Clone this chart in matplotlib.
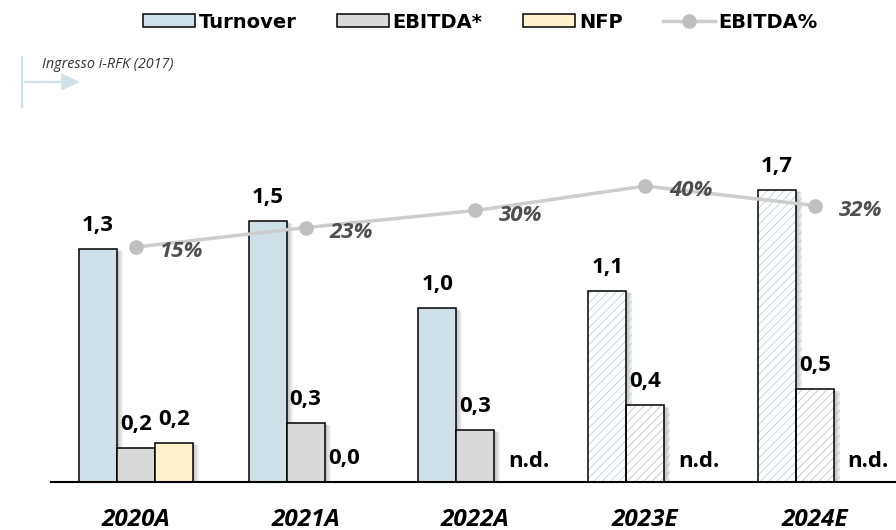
import numpy as np
import matplotlib
matplotlib.use("Agg")
import matplotlib.pyplot as plt
from matplotlib.patches import Patch, FancyArrowPatch
from matplotlib.lines import Line2D
import matplotlib.patheffects as pe

# ---------------- data ----------------
years = ["2020A", "2021A", "2022A", "2023E", "2024E"]
is_estimate = [False, False, False, True, True]
turnover = [1.34, 1.50, 1.00, 1.10, 1.68]
ebitda = [0.195, 0.34, 0.30, 0.44, 0.535]
nfp = [0.225, 0.0, np.nan, np.nan, np.nan]
ebitda_pct = [0.15, 0.23, 0.30, 0.40, 0.32]
turnover_lbl = ["1,3", "1,5", "1,0", "1,1", "1,7"]
ebitda_lbl = ["0,2", "0,3", "0,3", "0,4", "0,5"]
nfp_lbl = ["0,2", "0,0", "n.d.", "n.d.", "n.d."]
pct_lbl = ["15%", "23%", "30%", "40%", "32%"]
series_names = ["Turnover", "EBITDA*", "NFP", "EBITDA%"]

# ---------------- style ----------------
C_TURN = "#cfe0e8"
C_TURN_H = "#c2d8e2"
C_EBIT = "#d9d9d9"
C_EBIT_H = "#cccccc"
C_NFP = "#fff2cc"
C_LINE = "#cdcdcd"
C_MARK = "#bfbfbf"
C_PCT = "#4f4f4f"
FONT = "Open Sans"

plt.rcParams["hatch.linewidth"] = 0.7

W, H = 896, 530
fig = plt.figure(figsize=(W / 100, H / 100), dpi=100)
fig.patch.set_facecolor("white")

ax_left, ax_bottom = 51 / W, 48 / H
ax = fig.add_axes([ax_left, ax_bottom, 1 - ax_left, 435 / H])
ax.set_xlim(-0.5, 4.477)
ax.set_ylim(0, 2.5)

bw = 0.224
x = np.arange(len(years))


def shadow_effects():
    effs = []
    for k in range(1, 7):
        effs.append(pe.SimplePatchShadow(offset=(k * 0.72, -k * 0.3),
                                         shadow_rgbFace="black", alpha=0.045))
    effs.append(pe.Normal())
    return effs


def draw_bar(xc, val, color, hatch_color, est):
    if np.isnan(val):
        return
    if est:
        b = ax.bar(xc, val, bw, color="white", edgecolor=hatch_color, hatch="////",
                   linewidth=0, zorder=2)
        b[0].set_path_effects(shadow_effects())
        ax.bar(xc, val, bw, fill=False, edgecolor="black", linewidth=1.1, zorder=3)
    else:
        b = ax.bar(xc, val, bw, color=color, edgecolor="black", linewidth=1.1, zorder=2)
        b[0].set_path_effects(shadow_effects())


for i in range(len(years)):
    draw_bar(x[i] - bw, turnover[i], C_TURN, C_TURN_H, is_estimate[i])
    draw_bar(x[i], ebitda[i], C_EBIT, C_EBIT_H, is_estimate[i])
    if not np.isnan(nfp[i]) and nfp[i] > 0:
        draw_bar(x[i] + bw, nfp[i], C_NFP, C_NFP, is_estimate[i])

lab_kw = dict(textcoords="offset points", ha="center", va="baseline",
              fontsize=16, fontweight="bold", family=FONT, color="black", zorder=6)
for i in range(len(years)):
    ax.annotate(turnover_lbl[i], (x[i] - bw, turnover[i]), xytext=(0, 13), **lab_kw)
    ax.annotate(ebitda_lbl[i], (x[i], ebitda[i]), xytext=(0, 13), **lab_kw)
    v = nfp[i]
    if np.isnan(v):
        ax.annotate(nfp_lbl[i], (x[i] + bw, 0), xytext=(11, 11), **lab_kw)
    else:
        ax.annotate(nfp_lbl[i], (x[i] + bw, v), xytext=(0, 13), **lab_kw)

# spines / ticks
for s in ["top", "right", "left"]:
    ax.spines[s].set_visible(False)
ax.spines["bottom"].set_linewidth(1.5)
ax.spines["bottom"].set_color("black")
ax.spines["bottom"].set_zorder(5)
ax.set_yticks([])
ax.set_xticks(x)
ax.set_xticklabels(years, fontsize=17.5, fontweight="bold", fontstyle="italic",
                   family=FONT, color="black")
ax.tick_params(axis="x", length=0, pad=31.5)
for t in ax.get_xticklabels():
    t.set_va("baseline")

# secondary axis for EBITDA%
ax2 = ax.twinx()
ax2.set_ylim(-0.813, 0.970)
ax2.set_yticks([])
for s in ax2.spines.values():
    s.set_visible(False)
ax2.plot(x, ebitda_pct, color=C_LINE, linewidth=2.5, marker="o", markersize=9.5,
         markerfacecolor=C_MARK, markeredgecolor=C_MARK, zorder=4)
for i in range(len(years)):
    ax2.annotate(pct_lbl[i], (x[i], ebitda_pct[i]), xytext=(17, -7.3),
                 textcoords="offset points", ha="left", va="baseline", fontsize=16,
                 fontweight="bold", fontstyle="italic", family=FONT, color=C_PCT, zorder=6)

# legend
handles = [
    Patch(facecolor=C_TURN, edgecolor="black", linewidth=1.1),
    Patch(facecolor=C_EBIT, edgecolor="black", linewidth=1.1),
    Patch(facecolor=C_NFP, edgecolor="black", linewidth=1.1),
    Line2D([], [], color=C_LINE, linewidth=2.5, marker="o", markersize=9.5,
           markerfacecolor=C_MARK, markeredgecolor=C_MARK),
]
leg = fig.legend(handles, series_names, loc="center", ncol=4,
                 bbox_to_anchor=(480.5 / W, 1 - 22 / H), frameon=False,
                 prop=dict(family="DejaVu Sans", weight="bold", size=14),
                 handlelength=2.67, handleheight=0.67, handletextpad=0.18,
                 columnspacing=2.1, borderaxespad=0, borderpad=0)

# "Ingresso" annotation
tf = fig.transFigure
def fx(p):
    return p / W
def fy(p):
    return 1 - p / H

fig.add_artist(Line2D([fx(22), fx(22)], [fy(57), fy(107)], transform=tf,
                      color=C_TURN, linewidth=1.6))
fig.add_artist(FancyArrowPatch((fx(22), fy(82)), (fx(83), fy(82)), transform=tf,
                               arrowstyle="-|>,head_length=11,head_width=5",
                               mutation_scale=1, color=C_TURN, linewidth=1.6))
fig.text(fx(42), fy(68), "Ingresso i-RFK (2017)", fontsize=10.4, fontstyle="italic",
         family=FONT, color="#333333", ha="left", va="baseline")

fig.savefig("out.png", dpi=100)
